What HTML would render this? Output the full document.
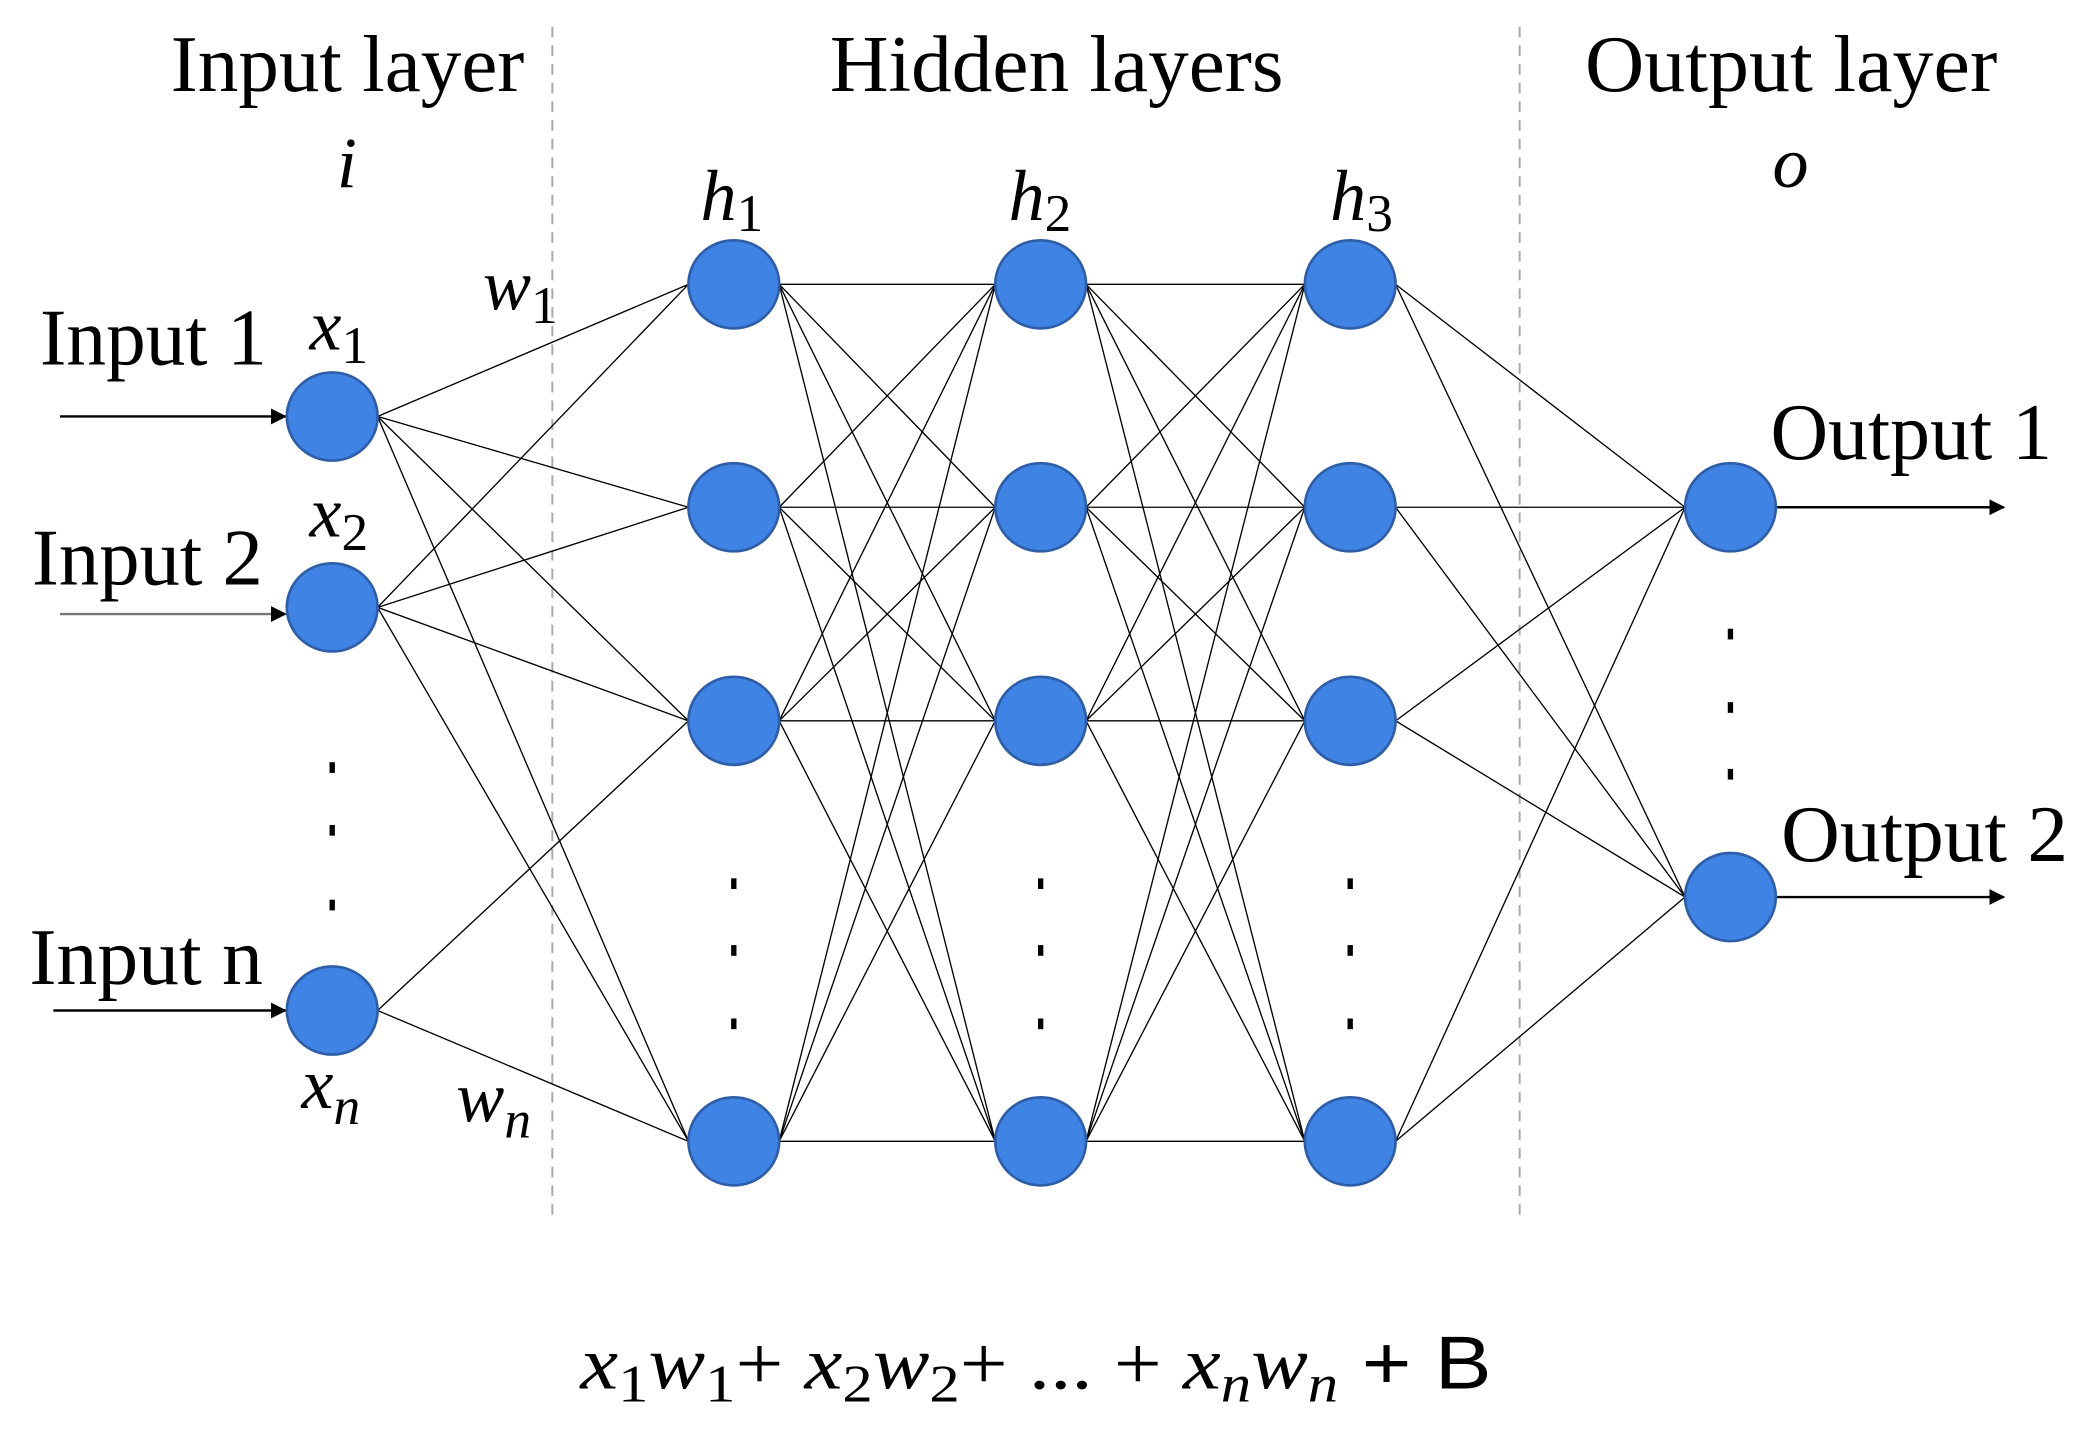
<!DOCTYPE html>
<html><head><meta charset="utf-8"><style>
html,body{margin:0;padding:0;background:#fff;}
svg{display:block;}
.t{font-family:"Liberation Serif",serif;fill:#000;}
.m{font-family:"Liberation Serif",serif;font-style:italic;fill:#000;}
</style></head><body>
<svg id="s" width="2092" height="1435" viewBox="0 0 1568 1075" preserveAspectRatio="none" xmlns="http://www.w3.org/2000/svg">
<defs><marker id="ah" markerWidth="12" markerHeight="12" refX="11" refY="6" orient="auto" markerUnits="userSpaceOnUse"><path d="M0,0 L12,6 L0,12 z" fill="#000"/></marker></defs>
<line x1="414" y1="20" x2="414" y2="912" stroke="#aaa" stroke-width="1.5" stroke-dasharray="8,6"/>
<line x1="1139" y1="20" x2="1139" y2="912" stroke="#aaa" stroke-width="1.5" stroke-dasharray="8,6"/>
<g id="lines" stroke="#000" stroke-width="1"></g>
<g stroke="#000" stroke-width="1.8">
<line x1="45" y1="312" x2="214" y2="312" marker-end="url(#ah)"/>
<line x1="45" y1="460" x2="214" y2="460" marker-end="url(#ah)" stroke="#777"/>
<line x1="40" y1="757" x2="214" y2="757" marker-end="url(#ah)"/>
<line x1="1332" y1="380" x2="1502" y2="380" marker-end="url(#ah)"/>
<line x1="1332" y1="672" x2="1502" y2="672" marker-end="url(#ah)"/>
</g>
<g id="nodes" fill="#3f84e5" stroke="#2f5ea8" stroke-width="2"></g>
<g fill="#000">
<rect x="247" y="571" width="4" height="8"/><rect x="247" y="618" width="4" height="8"/><rect x="247" y="674" width="4" height="8"/>
<rect x="548" y="658" width="4" height="8"/><rect x="548" y="708" width="4" height="8"/><rect x="548" y="763" width="4" height="8"/>
<rect x="778" y="658" width="4" height="8"/><rect x="778" y="708" width="4" height="8"/><rect x="778" y="763" width="4" height="8"/>
<rect x="1010" y="658" width="4" height="8"/><rect x="1010" y="708" width="4" height="8"/><rect x="1010" y="763" width="4" height="8"/>
<rect x="1295" y="471" width="4" height="8"/><rect x="1295" y="526" width="4" height="8"/><rect x="1295" y="576" width="4" height="8"/>
</g>
<g class="t" font-size="60">
<text class="t" x="128" y="68" textLength="265" lengthAdjust="spacingAndGlyphs">Input layer</text>
<text class="t" x="622" y="68" textLength="340" lengthAdjust="spacingAndGlyphs">Hidden layers</text>
<text class="t" x="1188" y="68" textLength="309" lengthAdjust="spacingAndGlyphs">Output layer</text>
<text class="t" x="30" y="273" textLength="170" lengthAdjust="spacingAndGlyphs">Input 1</text>
<text class="t" x="24" y="438" textLength="173" lengthAdjust="spacingAndGlyphs">Input 2</text>
<text class="t" x="22" y="737" textLength="175" lengthAdjust="spacingAndGlyphs">Input n</text>
<text class="t" x="1327" y="344" textLength="211" lengthAdjust="spacingAndGlyphs">Output 1</text>
<text class="t" x="1335" y="645" textLength="215" lengthAdjust="spacingAndGlyphs">Output 2</text>
</g>
<text class="m" x="260" y="140" font-size="54" text-anchor="middle">i</text>
<text class="m" x="1342" y="140" font-size="54" text-anchor="middle">o</text>
<text class="m" x="525" y="165" font-size="54">h<tspan font-style="normal" font-size="40" dy="8">1</tspan></text>
<text class="m" x="756" y="165" font-size="54">h<tspan font-style="normal" font-size="40" dy="8">2</tspan></text>
<text class="m" x="997" y="165" font-size="54">h<tspan font-style="normal" font-size="40" dy="8">3</tspan></text>
<text class="m" x="232" y="262" font-size="54">x<tspan font-style="normal" font-size="40" dy="10">1</tspan></text>
<text class="m" x="232" y="402" font-size="54">x<tspan font-style="normal" font-size="40" dy="10">2</tspan></text>
<text class="m" x="226" y="830" font-size="54">x<tspan font-size="40" dy="12">n</tspan></text>
<text class="m" x="362" y="232" font-size="54">w<tspan font-style="normal" font-size="40" dy="10">1</tspan></text>
<text class="m" x="342" y="840" font-size="54">w<tspan font-size="40" dy="12">n</tspan></text>
<text class="m" x="435" y="1040" font-size="56" textLength="683" lengthAdjust="spacingAndGlyphs">x<tspan font-style="normal" font-size="40" dy="10">1</tspan><tspan dy="-10">w</tspan><tspan font-style="normal" font-size="40" dy="10">1</tspan><tspan font-style="normal" dy="-10">+ </tspan><tspan>x</tspan><tspan font-style="normal" font-size="40" dy="10">2</tspan><tspan dy="-10">w</tspan><tspan font-style="normal" font-size="40" dy="10">2</tspan><tspan font-style="normal" dy="-10">+ ... + </tspan><tspan>x</tspan><tspan font-size="40" dy="10">n</tspan><tspan dy="-10">w</tspan><tspan font-size="40" dy="10">n</tspan><tspan font-style="normal" font-family="Liberation Sans, sans-serif" dy="-10"> + B</tspan></text>
</svg>
<script>
var NS="http://www.w3.org/2000/svg";
var inp=[[249,312],[249,455],[249,757]];
var H=[550,780,1012],Y=[213,380,540,855];
var out=[[1297,380],[1297,672]];
var R=34,RY=33;
var L=document.getElementById("lines"),N=document.getElementById("nodes");
function ln(a,b){var l=document.createElementNS(NS,"line");l.setAttribute("x1",a[0]+R);l.setAttribute("y1",a[1]);l.setAttribute("x2",b[0]-R);l.setAttribute("y2",b[1]);L.appendChild(l);}
function nd(p){var e=document.createElementNS(NS,"ellipse");e.setAttribute("cx",p[0]);e.setAttribute("cy",p[1]);e.setAttribute("rx",R);e.setAttribute("ry",RY);N.appendChild(e);}
inp.forEach(function(p,i){(i<2?Y:[540,855]).forEach(function(y){ln(p,[H[0],y]);});});
for(var k=0;k<2;k++)Y.forEach(function(a){Y.forEach(function(b){ln([H[k],a],[H[k+1],b]);});});
Y.forEach(function(a){out.forEach(function(o){ln([H[2],a],o);});});
inp.forEach(nd);H.forEach(function(x){Y.forEach(function(y){nd([x,y]);});});out.forEach(nd);
</script>
</body></html>
